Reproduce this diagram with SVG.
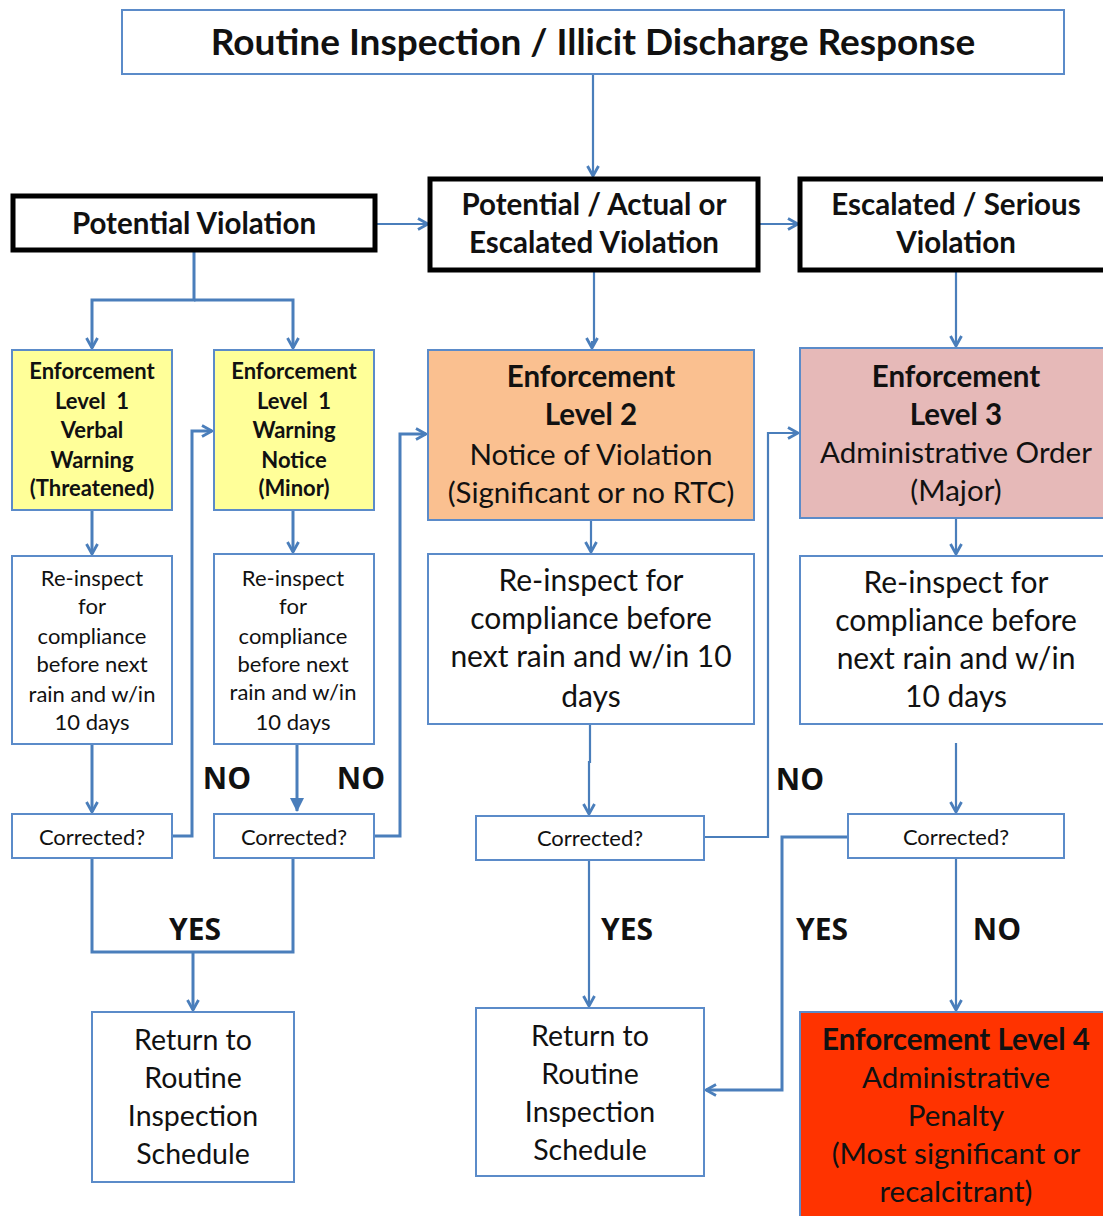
<svg xmlns="http://www.w3.org/2000/svg" width="1103" height="1216" viewBox="0 0 1103 1216">
<defs>
<marker id="ah" markerUnits="userSpaceOnUse" viewBox="0 0 12 14" markerWidth="12" markerHeight="14" refX="11" refY="7" orient="auto">
<path d="M1,1.5 L11,7 L1,12.5" fill="none" stroke="#4A7EBB" stroke-width="2.8" stroke-linejoin="miter"/>
</marker>
<marker id="tri" markerUnits="userSpaceOnUse" viewBox="0 0 14 14" markerWidth="14" markerHeight="14" refX="13" refY="7" orient="auto">
<path d="M0,0 L14,7 L0,14 Z" fill="#4A7EBB"/>
</marker>
<style>
.bx{fill:#fff;stroke:#5B8BC9;stroke-width:2}
.hd{fill:#fff;stroke:#000;stroke-width:5}
.y{fill:#FFFF99;stroke:#5B8BC9;stroke-width:2}
.o{fill:#FAC090;stroke:#5B8BC9;stroke-width:2}
.p{fill:#E6B9B8;stroke:#5B8BC9;stroke-width:2}
.r{fill:#FF3300;stroke:#5B8BC9;stroke-width:2}
text{font-family:Lato,"Open Sans","Liberation Sans",sans-serif;fill:#111;text-anchor:middle}
.b{font-weight:bold}
.c{fill:none;stroke:#4A7EBB;stroke-width:3}
.t{stroke-width:2.2}
.lbl{font-weight:bold;font-size:30px;font-family:"Open Sans",Lato,sans-serif}
</style>
</defs>

<g id="connectors">
<path class="c t" d="M593,74 V176" marker-end="url(#ah)"/>
<path class="c t" d="M376,224 H428" marker-end="url(#ah)"/>
<path class="c t" d="M758,224 H798" marker-end="url(#ah)"/>
<path class="c" d="M194,250 V300 H92 V348" marker-end="url(#ah)"/>
<path class="c" d="M194,300 H293 V348" marker-end="url(#ah)"/>
<path class="c t" d="M594,270 V342 H592 V348" marker-end="url(#ah)"/>
<path class="c t" d="M956,270 V346" marker-end="url(#ah)"/>
<path class="c" d="M92,510 V554" marker-end="url(#ah)"/>
<path class="c" d="M293,510 V552" marker-end="url(#ah)"/>
<path class="c t" d="M591,520 V552" marker-end="url(#ah)"/>
<path class="c t" d="M956,518 V554" marker-end="url(#ah)"/>
<path class="c" d="M92,744 V812" marker-end="url(#ah)"/>
<path class="c" d="M297,744 V811" marker-end="url(#tri)"/>
<path class="c t" d="M590,724 V762 H589 V814" marker-end="url(#ah)"/>
<path class="c t" d="M956,743 V812" marker-end="url(#ah)"/>
<path class="c" d="M172,836 H192 V431 H212" marker-end="url(#ah)"/>
<path class="c" d="M374,836 H400 V434 H426" marker-end="url(#ah)"/>
<path class="c t" d="M704,837 H768 V433 H798" marker-end="url(#ah)"/>
<path class="c" d="M92,858 V952 H293 V858"/>
<path class="c" d="M193,952 V1010" marker-end="url(#ah)"/>
<path class="c t" d="M589,860 V1006" marker-end="url(#ah)"/>
<path class="c" d="M848,837 H782 V1090 H706" marker-end="url(#ah)"/>
<path class="c t" d="M956,858 V1010" marker-end="url(#ah)"/>
</g>

<g id="labels">
<text class="lbl" x="227" y="789">NO</text>
<text class="lbl" x="361" y="789">NO</text>
<text class="lbl" x="800" y="790">NO</text>
<text class="lbl" x="195" y="940">YES</text>
<text class="lbl" x="627" y="940">YES</text>
<text class="lbl" x="822" y="940">YES</text>
<text class="lbl" x="997" y="940">NO</text>
</g>

<g id="title">
<rect class="bx" x="122" y="10" width="942" height="64"/>
<text class="b" x="593" y="55" font-size="37">Routine Inspection / Illicit Discharge Response</text>
</g>

<g id="potential-violation">
<rect class="hd" x="13" y="196" width="362" height="54"/>
<text class="b" x="194" y="234" font-size="29.5">Potential Violation</text>
</g>

<g id="potential-actual">
<rect class="hd" x="430" y="179" width="328" height="91"/>
<text class="b" x="594" y="215" font-size="29.5">Potential / Actual or</text>
<text class="b" x="594" y="253" font-size="29.5">Escalated Violation</text>
</g>

<g id="escalated-serious">
<rect class="hd" x="800" y="179" width="310" height="91"/>
<text class="b" x="956" y="215" font-size="29.5">Escalated / Serious</text>
<text class="b" x="956" y="253" font-size="29.5">Violation</text>
</g>

<g id="level1-verbal">
<rect class="y" x="12" y="350" width="160" height="160"/>
<g class="b" font-size="22">
<text x="92" y="379">Enforcement</text>
<text x="92" y="409" xml:space="preserve">Level  1</text>
<text x="92" y="438">Verbal</text>
<text x="92" y="468">Warning</text>
<text x="92" y="496">(Threatened)</text>
</g>
</g>

<g id="level1-notice">
<rect class="y" x="214" y="350" width="160" height="160"/>
<g class="b" font-size="22">
<text x="294" y="379">Enforcement</text>
<text x="294" y="409" xml:space="preserve">Level  1</text>
<text x="294" y="438">Warning</text>
<text x="294" y="468">Notice</text>
<text x="294" y="496">(Minor)</text>
</g>
</g>

<g id="level2">
<rect class="o" x="428" y="350" width="326" height="170"/>
<text class="b" x="591" y="387" font-size="29.5">Enforcement</text>
<text class="b" x="591" y="425" font-size="29.5">Level 2</text>
<text x="591" y="465" font-size="29.5">Notice of Violation</text>
<text x="591" y="503" font-size="29.5">(Significant or no RTC)</text>
</g>

<g id="level3">
<rect class="p" x="800" y="348" width="310" height="170"/>
<text class="b" x="956" y="387" font-size="29.5">Enforcement</text>
<text class="b" x="956" y="425" font-size="29.5">Level 3</text>
<text x="956" y="463" font-size="29.5">Administrative Order</text>
<text x="956" y="501" font-size="29.5">(Major)</text>
</g>

<g id="reinspect-a">
<rect class="bx" x="12" y="556" width="160" height="188"/>
<g font-size="22">
<text x="92" y="586">Re-inspect</text>
<text x="92" y="614">for</text>
<text x="92" y="644">compliance</text>
<text x="92" y="672">before next</text>
<text x="92" y="702">rain and w/in</text>
<text x="92" y="730">10 days</text>
</g>
</g>

<g id="reinspect-b">
<rect class="bx" x="214" y="554" width="160" height="190"/>
<g font-size="22">
<text x="293" y="586">Re-inspect</text>
<text x="293" y="614">for</text>
<text x="293" y="644">compliance</text>
<text x="293" y="672">before next</text>
<text x="293" y="700">rain and w/in</text>
<text x="293" y="730">10 days</text>
</g>
</g>

<g id="reinspect-2">
<rect class="bx" x="428" y="554" width="326" height="170"/>
<g font-size="30">
<text x="591" y="591">Re-inspect for</text>
<text x="591" y="629">compliance before</text>
<text x="591" y="667">next rain and w/in 10</text>
<text x="591" y="707">days</text>
</g>
</g>

<g id="reinspect-3">
<rect class="bx" x="800" y="556" width="310" height="168"/>
<g font-size="30">
<text x="956" y="593">Re-inspect for</text>
<text x="956" y="631">compliance before</text>
<text x="956" y="669">next rain and w/in</text>
<text x="956" y="707">10 days</text>
</g>
</g>

<g id="corrected-a">
<rect class="bx" x="12" y="814" width="160" height="44"/>
<text x="92" y="845" font-size="22">Corrected?</text>
</g>
<g id="corrected-b">
<rect class="bx" x="214" y="814" width="160" height="44"/>
<text x="294" y="845" font-size="22">Corrected?</text>
</g>
<g id="corrected-c">
<rect class="bx" x="476" y="816" width="228" height="44"/>
<text x="590" y="846" font-size="22">Corrected?</text>
</g>
<g id="corrected-d">
<rect class="bx" x="848" y="814" width="216" height="44"/>
<text x="956" y="845" font-size="22">Corrected?</text>
</g>

<g id="return-a">
<rect class="bx" x="92" y="1012" width="202" height="170"/>
<g font-size="28.5">
<text x="193" y="1050">Return to</text>
<text x="193" y="1088">Routine</text>
<text x="193" y="1126">Inspection</text>
<text x="193" y="1164">Schedule</text>
</g>
</g>

<g id="return-b">
<rect class="bx" x="476" y="1008" width="228" height="168"/>
<g font-size="28.5">
<text x="590" y="1046">Return to</text>
<text x="590" y="1084">Routine</text>
<text x="590" y="1122">Inspection</text>
<text x="590" y="1160">Schedule</text>
</g>
</g>

<g id="level4">
<rect class="r" x="800" y="1012" width="310" height="214"/>
<text class="b" x="956" y="1050" font-size="29.5">Enforcement Level 4</text>
<g font-size="29.5">
<text x="956" y="1088">Administrative</text>
<text x="956" y="1126">Penalty</text>
<text x="956" y="1164">(Most significant or</text>
<text x="956" y="1202">recalcitrant)</text>
</g>
</g>
</svg>
